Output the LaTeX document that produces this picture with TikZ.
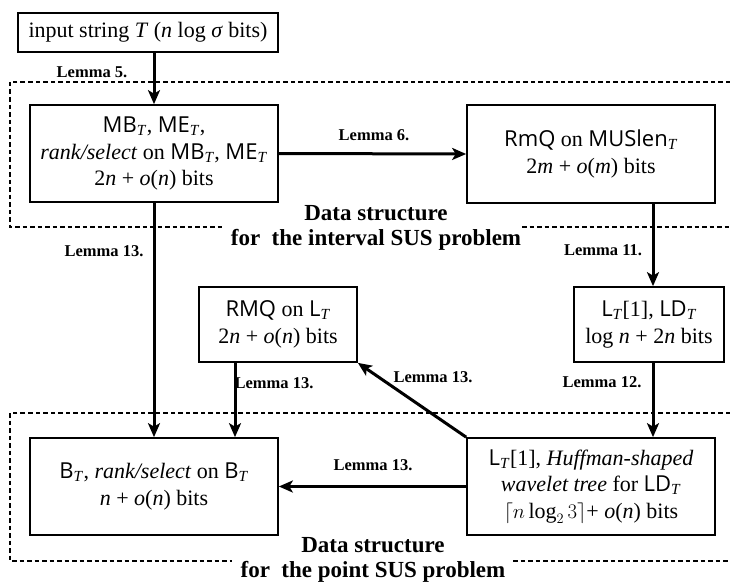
\documentclass[tikz,border=0pt]{standalone}
\usepackage{fontspec}
\setmainfont{Liberation Serif}
\setsansfont{Open Sans}
\usetikzlibrary{arrows.meta}
\newcommand{\iv}[1]{\textit{#1}}
\newcommand{\sT}{\textsubscript{\textit{T}}}
\begin{document}
\begin{tikzpicture}[x=1pt,y=-1pt,
  box/.style={draw, line width=1.7pt, inner sep=0pt, align=center, font=\fontsize{22}{26.5}\selectfont},
  arr/.style={line width=3pt, -{Stealth[length=14pt,width=12pt,inset=3.5pt]}},
  lem/.style={font=\bfseries\fontsize{16.5}{18}\selectfont, inner sep=0pt},
  region/.style={font=\bfseries\fontsize{23}{25}\selectfont, align=center, inner sep=0pt},
  dsh/.style={line width=1.5pt, dash pattern=on 4.5pt off 3pt}]
\useasboundingbox (0,0) rectangle (730,583);
% dashed regions
\draw[dsh] (730,82) -- (10,82) -- (10,227) -- (222,227);
\draw[dsh] (522,227) -- (730,227);
\draw[dsh] (730,413) -- (10,413) -- (10,561) -- (232,561);
\draw[dsh] (513,561) -- (730,561);
% boxes
\node[box, minimum width=260pt, minimum height=39pt] (in) at (148,32.5) {input string \iv{T} (\iv{n} log \iv{σ} bits)};
\node[box, minimum width=248pt, minimum height=97pt] (mb) at (154,153.5) {\textsf{MB}\sT, \textsf{ME}\sT,\\ \iv{rank/select} on \textsf{MB}\sT, \textsf{ME}\sT\\ 2\iv{n} + \iv{o}(\iv{n}) bits};
\node[box, minimum width=248pt, minimum height=98pt] (rmqa) at (591,154) {\textsf{RmQ} on \textsf{MUSlen}\sT\\ 2\iv{m} + \iv{o}(\iv{m}) bits};
\node[box, minimum width=150pt, minimum height=75pt] (ld) at (649,324.5) {\textsf{L}\sT[1], \textsf{LD}\sT\\ log \iv{n} + 2\iv{n} bits};
\node[box, minimum width=158pt, minimum height=75pt] (rmqb) at (278,324.5) {\textsf{RMQ} on \textsf{L}\sT\\ 2\iv{n} + \iv{o}(\iv{n}) bits};
\node[box, minimum width=248pt, minimum height=97pt] (b) at (154,486.5) {\textsf{B}\sT, \iv{rank/select} on \textsf{B}\sT\\ \iv{n} + \iv{o}(\iv{n}) bits};
\node[box, minimum width=248pt, minimum height=97pt] (huff) at (591,486.5) {\textsf{L}\sT[1], \iv{Huffman-shaped}\\ \iv{wavelet tree} for \textsf{LD}\sT\\ $\lceil n\log_2 3\rceil$+ \iv{o}(\iv{n}) bits};
% region labels
\node[region] (rl1) at (376,227.5) {Data structure\\for\ \ the interval SUS problem};
\node[region] (rl2) at (373,559.5) {Data structure\\for\ \ the point SUS problem};
% connectors
\coordinate (c1) at (653,0);
\coordinate (c2) at (235,0);
\draw[arr] (mb.north |- in.south) -- (mb.north);
\draw[arr] (mb.east) -- (rmqa.west);
\draw[arr] (mb.south) -- (b.north);
\draw[arr] (c1 |- rmqa.south) -- (c1 |- ld.north);
\draw[arr] (c1 |- ld.south) -- (c1 |- huff.north);
\draw[arr] (c2 |- rmqb.south) -- (c2 |- b.north);
\draw[arr] (huff.north west) -- (rmqb.south east);
\draw[arr] (huff.west) -- (b.east);
% lemma labels
\node[lem] (l5) at (92,72) {Lemma 5.};
\node[lem] (l6) at (374,135) {Lemma 6.};
\node[lem] (l13a) at (104,251) {Lemma 13.};
\node[lem] (l11) at (603,250) {Lemma 11.};
\node[lem] (l12) at (602,382) {Lemma 12.};
\node[lem] (l13b) at (274,383) {Lemma 13.};
\node[lem] (l13c) at (433,377) {Lemma 13.};
\node[lem] (l13d) at (373,465) {Lemma 13.};
\end{tikzpicture}
\end{document}
